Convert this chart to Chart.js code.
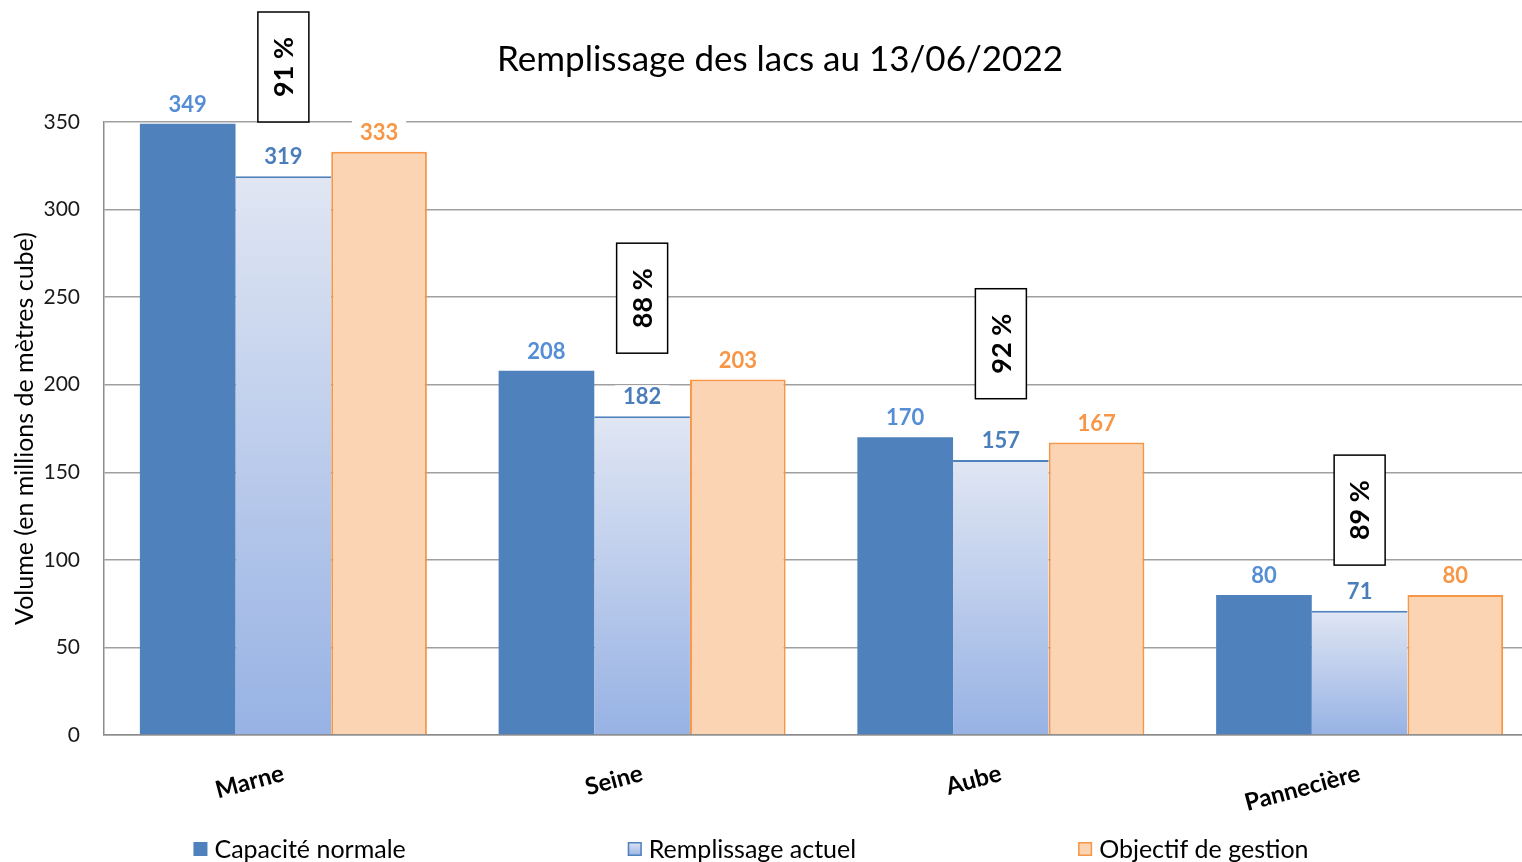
<!DOCTYPE html>
<html lang="fr">
<head>
<meta charset="utf-8">
<title>Remplissage des lacs au 13/06/2022</title>
<script src="https://cdn.jsdelivr.net/npm/chart.js@4.4.1/dist/chart.umd.min.js"></script>
<style>
  html, body { margin: 0; padding: 0; background: #fff; overflow: hidden; }
  /* the plot runs a little past the right edge of the picture */
  #wrap { position: relative; width: 1539px; height: 862px; }
</style>
</head>
<body>
<div id="wrap"><canvas id="lacs"></canvas></div>
<script>
// ── Data ──────────────────────────────────────────────────────────────────────
const LACS = ['Marne', 'Seine', 'Aube', 'Pannecière'];
const CAPACITE = [349, 208, 170, 80];
const REMPLISSAGE = [319, 182, 157, 71];
const OBJECTIF = [333, 203, 167, 80];
const TAUX = ['91 %', '88 %', '92 %', '89 %'];
const TAUX_BAS = [350, 218, 192, 97];   // value where the bottom of each % box sits
const Y_TICKS = [0, 50, 100, 150, 200, 250, 300, 350];

const FONT = 'Lato, "Open Sans", sans-serif';
const BLUE = '#4f81bd';
const ORANGE = '#f79646';
const PEACH = '#fbd4b4';

// gradient from the top of each bar down to zero
function barGradient(chart, top, bottom) {
  const g = chart.ctx.createLinearGradient(0, top, 0, bottom);
  g.addColorStop(0, '#e0e6f3');
  g.addColorStop(1, '#97b2e4');
  return g;
}

function remplissageFill(ctx) {
  const chart = ctx.chart;
  const y = chart.scales && chart.scales.y;
  if (!chart.chartArea || !y || ctx.dataIndex === undefined) return '#c5d3ee';
  const v = ctx.dataset.data[ctx.dataIndex];
  return barGradient(chart, y.getPixelForValue(v), y.getPixelForValue(0));
}

// ── Title, value labels, % boxes, legend ──────────────────────────────────────
const decorations = {
  id: 'decorations',
  afterDatasetsDraw(chart) {
    const { ctx } = chart;
    const y = chart.scales.y;
    const labelColors = ['#558ed5', '#4a7ebb', ORANGE];
    const visibleCenter = 761;   // window is 1522 wide

    ctx.save();
    // value labels above each bar, on a white patch that hides the grid
    ctx.font = 'bold 22px ' + FONT;
    ctx.textAlign = 'center';
    ctx.textBaseline = 'middle';
    chart.data.datasets.forEach((ds, di) => {
      const meta = chart.getDatasetMeta(di);
      meta.data.forEach((bar, i) => {
        const txt = String(ds.data[i]);
        const w = ctx.measureText(txt).width + 16;
        const ly = bar.y - 19;
        ctx.fillStyle = '#fff';
        ctx.fillRect(bar.x - w / 2, ly - 12, w, 24);
        ctx.fillStyle = labelColors[di];
        ctx.fillText(txt, bar.x, ly);
      });
    });

    // percentage boxes over the middle bar
    const mid = chart.getDatasetMeta(1);
    ctx.font = 'bold 27px ' + FONT;
    TAUX.forEach((t, i) => {
      const bx = mid.data[i].x;
      const bottom = y.getPixelForValue(TAUX_BAS[i]);
      const bw = 51, bh = 110;
      ctx.fillStyle = '#fff';
      ctx.fillRect(bx - bw / 2, bottom - bh, bw, bh);
      ctx.strokeStyle = '#000';
      ctx.lineWidth = 1.5;
      ctx.strokeRect(bx - bw / 2, bottom - bh, bw, bh);
      ctx.save();
      ctx.translate(bx, bottom - bh / 2);
      ctx.rotate(-Math.PI / 2);
      ctx.fillStyle = '#000';
      ctx.textAlign = 'center';
      ctx.textBaseline = 'middle';
      ctx.fillText(t, 0, 1);
      ctx.restore();
    });

    // title
    ctx.font = '35px ' + FONT;
    ctx.fillStyle = '#000';
    ctx.textAlign = 'center';
    ctx.textBaseline = 'middle';
    ctx.fillText('Remplissage des lacs au 13/06/2022', 780, 60);

    // legend along the bottom
    ctx.font = '25px ' + FONT;
    ctx.textAlign = 'left';
    const box = 14, gap = 7, spacing = 222;
    const widths = chart.data.datasets.map(ds => box + gap + ctx.measureText(ds.label).width);
    const total = widths.reduce((a, b) => a + b, 0) + spacing * (widths.length - 1);
    let lx = visibleCenter - 10 - total / 2;
    const lyc = 849;
    chart.data.datasets.forEach((ds, di) => {
      const top = lyc - box / 2;
      if (di === 0) {
        ctx.fillStyle = BLUE;
        ctx.fillRect(lx, top, box, box);
      } else {
        ctx.fillStyle = di === 1 ? barGradient(chart, top, top + box) : PEACH;
        ctx.fillRect(lx, top, box, box);
        ctx.strokeStyle = di === 1 ? BLUE : ORANGE;
        ctx.lineWidth = 1.5;
        ctx.strokeRect(lx + 0.75, top + 0.75, box - 1.5, box - 1.5);
      }
      ctx.fillStyle = '#000';
      ctx.fillText(ds.label, lx + box + gap, lyc + 1);
      lx += widths[di] + spacing;
    });
    ctx.restore();
  }
};

// ── Chart ─────────────────────────────────────────────────────────────────────
new Chart(document.getElementById('lacs'), {
  type: 'bar',
  data: {
    labels: LACS,
    datasets: [
      {
        label: 'Capacité normale',
        data: CAPACITE,
        backgroundColor: BLUE,
        borderWidth: 0
      },
      {
        label: 'Remplissage actuel',
        data: REMPLISSAGE,
        backgroundColor: remplissageFill,
        borderColor: BLUE,
        borderWidth: { top: 2, left: 0, right: 0, bottom: 0 }
      },
      {
        label: 'Objectif de gestion',
        data: OBJECTIF,
        backgroundColor: PEACH,
        borderColor: ORANGE,
        borderWidth: 2
      }
    ]
  },
  options: {
    responsive: true,
    maintainAspectRatio: false,
    animation: false,
    layout: { padding: { top: 122, right: 0, bottom: 40, left: 0 } },
    datasets: { bar: { categoryPercentage: 0.8, barPercentage: 1.0 } },
    plugins: {
      legend: { display: false },
      title: { display: false },
      tooltip: { enabled: false }
    },
    scales: {
      x: {
        grid: { display: false, drawTicks: false },
        border: { color: '#8c8c8c', width: 1.5 },
        ticks: {
          color: '#000',
          font: { family: FONT, size: 24, weight: 'bold' },
          minRotation: 15,
          maxRotation: 15,
          padding: 24
        },
        afterFit: s => { s.height = 87; }
      },
      y: {
        min: 0,
        max: 350,
        afterBuildTicks: s => { s.ticks = Y_TICKS.map(v => ({ value: v })); },
        grid: { color: '#a0a0a0', lineWidth: 1.5, drawTicks: false },
        border: { color: '#8c8c8c', width: 1.5 },
        ticks: {
          color: '#1a1a1a',
          font: { family: FONT, size: 21 },
          padding: 24
        },
        title: {
          display: true,
          text: 'Volume (en millions de mètres cube)',
          color: '#000',
          font: { family: FONT, size: 25 },
          padding: { top: 10, bottom: 0 }
        },
        afterFit: s => { s.width = 104; }
      }
    }
  },
  plugins: [decorations]
});
</script>
</body>
</html>
